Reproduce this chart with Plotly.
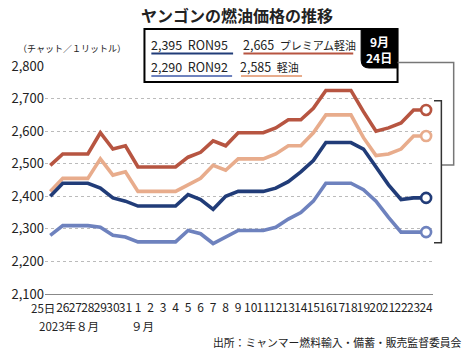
import plotly.graph_objects as go

# ---- data ----
days = ["25日", "26", "27", "28", "29", "30", "31"] + [str(d) for d in range(1, 25)]
ron95 = [2400, 2440, 2440, 2440, 2425, 2395, 2385,
         2370, 2370, 2370, 2370, 2405, 2390, 2360, 2400, 2415, 2415, 2415, 2425, 2445,
         2475, 2510, 2565, 2565, 2565, 2545, 2490, 2435, 2390, 2395, 2395]
ron92 = [2280, 2310, 2310, 2310, 2305, 2280, 2275,
         2260, 2260, 2260, 2260, 2295, 2285, 2255, 2275, 2295, 2295, 2295, 2305, 2330,
         2350, 2385, 2440, 2440, 2440, 2420, 2385, 2335, 2290, 2290, 2290]
premium = [2495, 2530, 2530, 2530, 2595, 2545, 2555,
           2490, 2490, 2490, 2490, 2520, 2535, 2570, 2555, 2595, 2595, 2595, 2610, 2635,
           2635, 2670, 2725, 2725, 2725, 2660, 2600, 2610, 2625, 2665, 2665]
diesel = [2415, 2455, 2455, 2455, 2515, 2465, 2475,
          2415, 2415, 2415, 2415, 2435, 2455, 2495, 2480, 2515, 2515, 2515, 2530, 2555,
          2555, 2595, 2650, 2650, 2650, 2580, 2525, 2530, 2545, 2585, 2585]
yticks = [2100, 2200, 2300, 2400, 2500, 2600, 2700, 2800]

C95 = "#213c78"
C92 = "#6e82be"
CPR = "#b75541"
CDI = "#e8ac8c"

W, H = 465, 354
L, R, T, B = 39, 433, 66, 294

def px(x):
    return (x - L) / (R - L)

def py(y):
    return (B - y) / (B - T)

FONT = "Noto Sans CJK JP, Noto Sans, sans-serif"
NARROW = "Liberation Sans Narrow, Noto Sans CJK JP, sans-serif"

fig = go.Figure()
series = [("プレミアム軽油", premium, CPR), ("軽油", diesel, CDI),
          ("RON95", ron95, C95), ("RON92", ron92, C92)]
for name, vals, col in series:
    fig.add_trace(go.Scatter(x=days, y=vals, mode="lines", name=name,
                             line=dict(color=col, width=3.6), showlegend=False,
                             hoverinfo="skip"))
for name, vals, col in series:
    fig.add_trace(go.Scatter(x=[days[-1]], y=[vals[-1]], mode="markers",
                             marker=dict(size=10, color="white", symbol="circle",
                                         line=dict(color=col, width=2.6)),
                             showlegend=False, hoverinfo="skip"))

shapes = []
anns = []

def note(x, y, text, size, color="#222", family=FONT, xanchor="center", bold=False):
    f = dict(family=family, size=size, color=color)
    if bold:
        f["weight"] = "bold"
    anns.append(dict(xref="paper", yref="paper", x=px(x), y=py(y), text=text,
                     showarrow=False, font=f, xanchor=xanchor, yanchor="middle",
                     borderpad=0))

# legend box
shapes.append(dict(type="rect", xref="paper", yref="paper",
                   x0=px(140), x1=px(397), y0=py(82), y1=py(29),
                   line=dict(color="black", width=2), fillcolor="white", layer="above"))
# black date tab
path = (f"M {px(360)},{py(29)} L {px(397)},{py(29)} L {px(397)},{py(68)} "
        f"L {px(368)},{py(68)} Q {px(360)},{py(68)} {px(360)},{py(60)} Z")
shapes.append(dict(type="path", xref="paper", yref="paper", path=path,
                   fillcolor="black", line=dict(color="black", width=1), layer="above"))
note(378.5, 41, "9月", 12, color="white", bold=True)
note(378.5, 58, "24日", 12, color="white", bold=True)

# legend entries
entries = [
    (ron95, "RON95", C95, 147, 230, 44.5, 53.5, False),
    (premium, "プレミアム軽油", CPR, 240.5, 352, 44.5, 53.5, True),
    (ron92, "RON92", C92, 147, 229, 66.5, 76, False),
    (diesel, "軽油", CDI, 238, 300, 66.5, 76, True),
]
for vals, name, col, x0, x1, ty, uy, jp in entries:
    label = f"<span style='font-size:11px'>{name}</span>" if jp else name
    note(x0 - 1.5, ty, f"{vals[-1]:,}  {label}", 12.5, xanchor="left")
    shapes.append(dict(type="line", xref="paper", yref="paper",
                       x0=px(x0), x1=px(x1), y0=py(uy), y1=py(uy),
                       line=dict(color=col, width=2), layer="above"))

# brackets
shapes.append(dict(type="path", xref="paper", yref="paper",
                   path=f"M {px(397)},{py(62.5)} L {px(454)},{py(62.5)} L {px(454)},{py(165)} L {px(441.5)},{py(165)}",
                   line=dict(color="#777", width=1.5), layer="above"))
shapes.append(dict(type="path", xref="paper", yref="paper",
                   path=f"M {px(434)},{py(100.7)} L {px(441.5)},{py(100.7)} L {px(441.5)},{py(242.7)} L {px(434)},{py(242.7)}",
                   line=dict(color="#333", width=1.5), layer="above"))

# texts
note(233.5, 15, "ヤンゴンの燃油価格の推移", 16, bold=True)
note(11, 48.5, "（チャット／１リットル）", 9, xanchor="left")
note(32, 325.5, "2023年８月", 11.5, xanchor="left")
note(138.5, 325.5, "９月", 11.5)
note(463, 342, "出所：ミャンマー燃料輸入・備蓄・販売監督委員会", 10.8, xanchor="right")
# first x label drawn separately (shifted left like the reference)
note(50.5, 307.5, days[0], 11.5, family=NARROW, xanchor="right")

ticktext = [""] + days[1:]

fig.update_layout(
    width=W, height=H,
    margin=dict(l=L, r=W - R, t=T, b=H - B, pad=0),
    paper_bgcolor="white", plot_bgcolor="white",
    shapes=shapes, annotations=anns,
    xaxis=dict(type="category", range=[-0.42, 30.55], tickmode="array",
               tickvals=days, ticktext=ticktext, tickangle=0, showgrid=False,
               showline=True, linecolor="#888", linewidth=1, ticks="",
               ticklabelstandoff=3,
               tickfont=dict(family=NARROW, size=12, color="#222"), zeroline=False),
    yaxis=dict(range=[2100, 2800], tickvals=yticks, tickformat=",d",
               showgrid=True, gridcolor="#bbb", griddash="dot", gridwidth=1,
               showline=False, zeroline=False, ticks="",
               tickfont=dict(family=NARROW, size=13, color="#222")),
)

fig.write_html("out.html")
